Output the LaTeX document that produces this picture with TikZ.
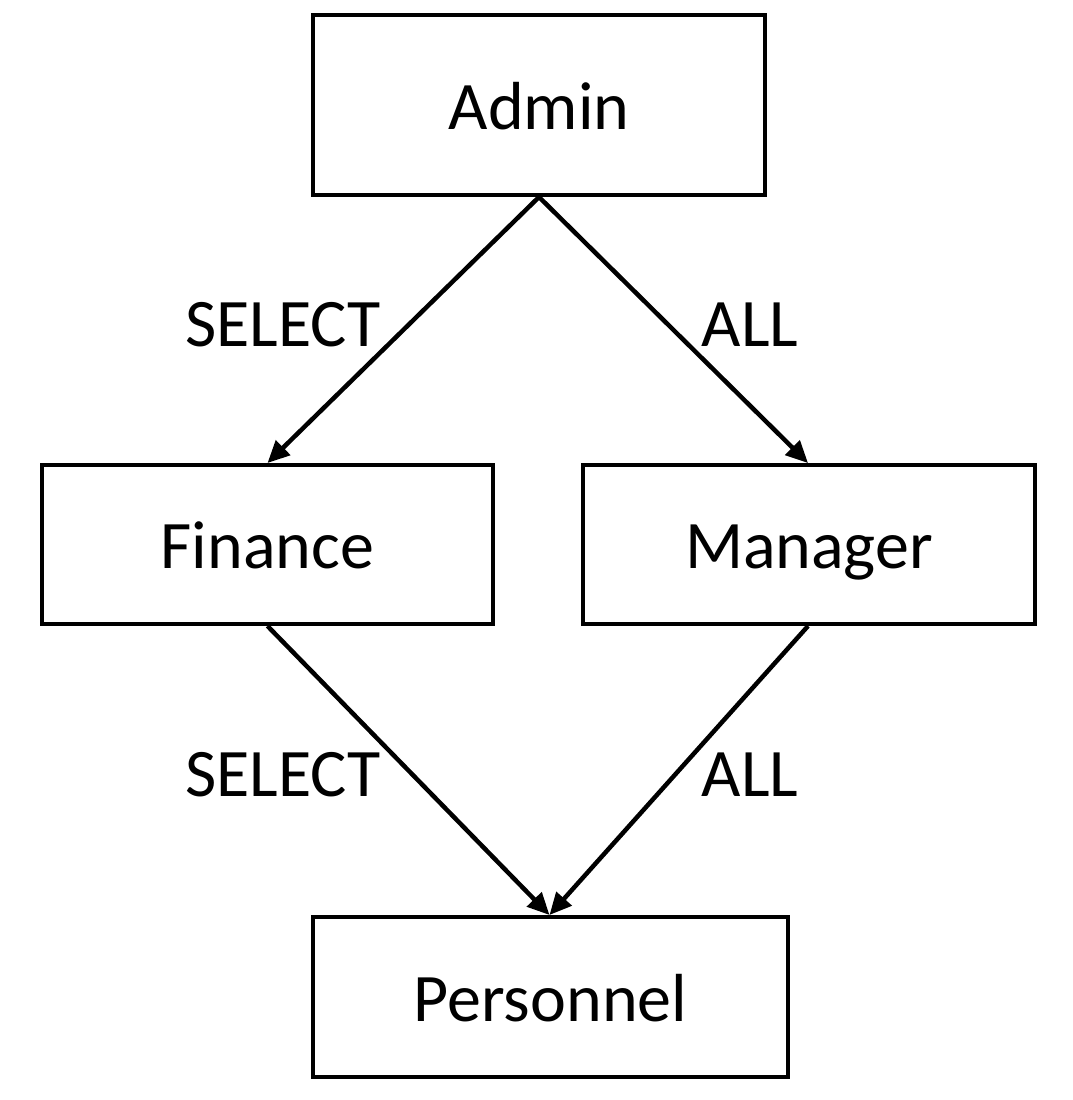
\documentclass[tikz,border=0pt]{standalone}
\usepackage{fontspec}
\setmainfont{Carlito}
\usetikzlibrary{arrows.meta}
\begin{document}
\begin{tikzpicture}[x=1pt,y=-1pt,
  box/.style={draw,line width=4pt,inner sep=0pt,text height=48pt,text depth=0pt,font=\fontsize{68}{80}\selectfont},
  conn/.style={line width=4.5pt,-{Triangle[length=22pt,width=20pt]}},
  lbl/.style={font=\fontsize{68}{80}\selectfont,text height=48pt,text depth=0pt,inner sep=0pt}]
\useasboundingbox (0,0) rectangle (1072,1100);
\node[box,minimum width=452pt,minimum height=180pt] (admin) at (539,105) {Admin};
\node[box,minimum width=451pt,minimum height=159pt] (finance) at (267.5,544.5) {Finance};
\node[box,minimum width=452pt,minimum height=159pt] (manager) at (809,544.5) {Manager};
\node[box,minimum width=475pt,minimum height=160pt] (personnel) at (550.5,997) {Personnel};
\draw[conn] (admin.south) -- (finance.north);
\draw[conn] (admin.south) -- ([xshift=-1pt]manager.north);
\draw[conn] (finance.south) -- ([xshift=-1pt]personnel.north);
\draw[conn] ([xshift=-1pt]manager.south) -- ([xshift=-1pt]personnel.north);
\node[lbl] (l1) at (283,322) {SELECT};
\node[lbl] (l2) at (750,322) {ALL};
\node[lbl] (l3) at (283,772) {SELECT};
\node[lbl] (l4) at (750,772) {ALL};
\end{tikzpicture}
\end{document}
